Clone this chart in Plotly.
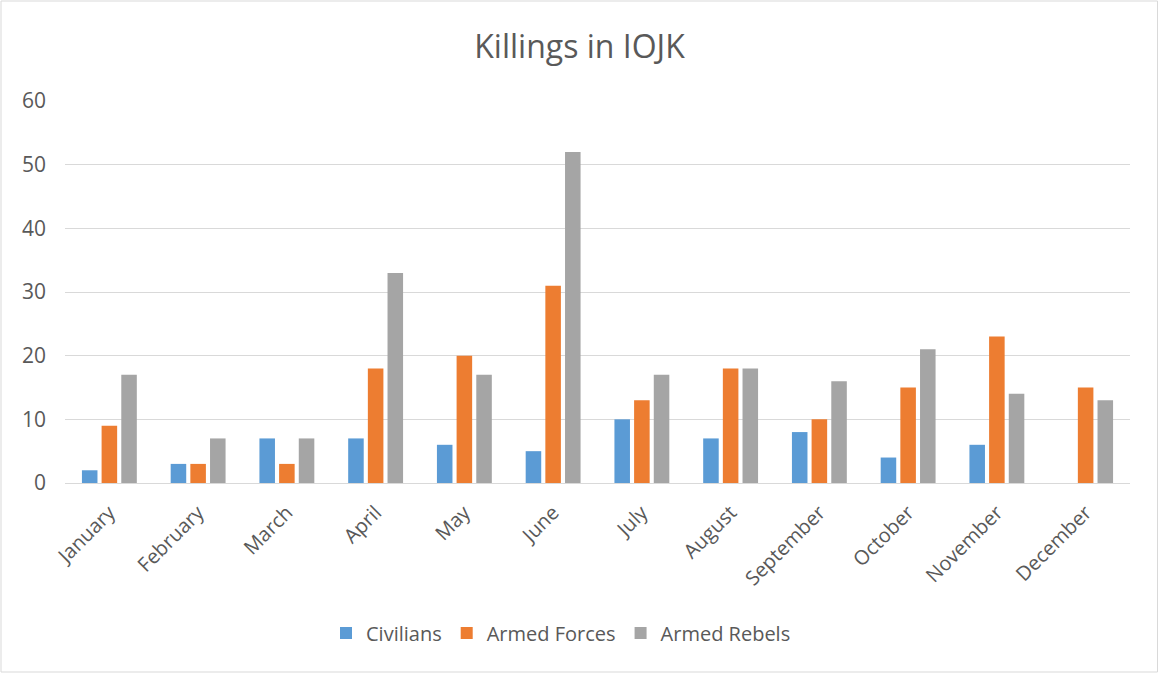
import plotly.graph_objects as go

months = ["January", "February", "March", "April", "May", "June", "July",
          "August", "September", "October", "November", "December"]
civilians = [2, 3, 7, 7, 6, 5, 10, 7, 8, 4, 6, None]
armed_forces = [9, 3, 3, 18, 20, 31, 13, 18, 10, 15, 23, 15]
armed_rebels = [17, 7, 7, 33, 17, 52, 17, 18, 16, 21, 14, 13]
y_ticks = [0, 10, 20, 30, 40, 50, 60]

W, H = 1159, 673
L, R, T, B = 65, 29, 101, 190
pw, ph = W - L - R, H - T - B

fig = go.Figure()
for name, vals, col in [("Civilians", civilians, "#5B9BD5"),
                        ("Armed Forces", armed_forces, "#ED7D31"),
                        ("Armed Rebels", armed_rebels, "#A5A5A5")]:
    fig.add_trace(go.Bar(x=months, y=vals, name=name,
                         marker=dict(color=col, line=dict(width=0))))

def px_x(x):
    return (x - L) / pw

def px_y(y):
    return (H - B - y) / ph

fig.update_layout(
    width=W, height=H,
    margin=dict(l=L, r=R, t=T, b=B),
    paper_bgcolor="white", plot_bgcolor="white",
    font=dict(family="Open Sans, sans-serif", color="#595959", size=20),
    title=dict(text="Killings in IOJK", x=0.5, xref="container", xanchor="center",
               y=1 - 47 / H, yanchor="middle",
               font=dict(size=32, color="#595959")),
    barmode="group", bargap=0.335, bargroupgap=0.21,
    showlegend=True,
    legend=dict(orientation="h", x=px_x(561), xanchor="center",
                y=px_y(633), yanchor="middle",
                font=dict(size=20, color="#595959"),
                itemwidth=30, traceorder="normal"),
    xaxis=dict(tickangle=-45, showgrid=False, showline=False, ticks="",
               ticklabelstandoff=13,
               tickfont=dict(size=20, color="#595959")),
    yaxis=dict(range=[0, 60], tickvals=y_ticks, showgrid=True,
               gridcolor="#D9D9D9", gridwidth=1, zeroline=True,
               zerolinecolor="#D9D9D9", zerolinewidth=1, showline=False,
               ticks="", ticklabelstandoff=18,
               tickfont=dict(size=21, color="#595959")),
    shapes=[dict(type="rect", xref="paper", yref="paper",
                 x0=px_x(1), x1=px_x(1157.5), y0=px_y(672), y1=px_y(1),
                 line=dict(color="#D9D9D9", width=1), fillcolor="rgba(0,0,0,0)")],
)

fig.write_html("out.html")
